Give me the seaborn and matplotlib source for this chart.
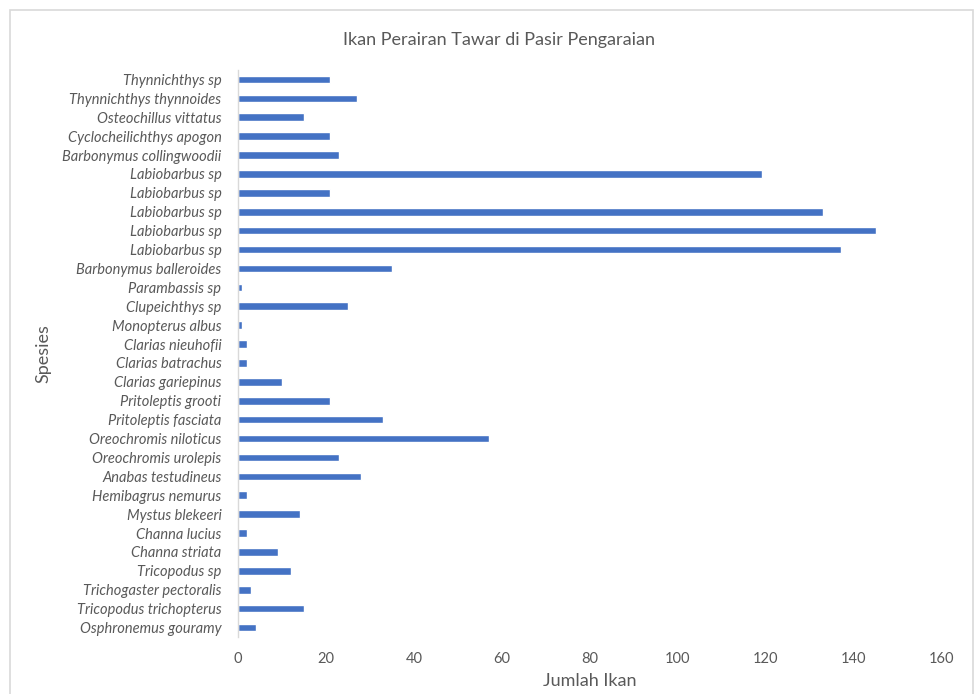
import matplotlib
matplotlib.use('Agg')
import matplotlib.pyplot as plt
import pandas as pd
import seaborn as sns
from matplotlib.patches import Rectangle

# Data (top to bottom as shown in the chart)
species = ['Thynnichthys sp', 'Thynnichthys thynnoides', 'Osteochillus vittatus',
           'Cyclocheilichthys apogon', 'Barbonymus collingwoodii', 'Labiobarbus sp',
           'Labiobarbus sp', 'Labiobarbus sp', 'Labiobarbus sp', 'Labiobarbus sp',
           'Barbonymus balleroides', 'Parambassis sp', 'Clupeichthys sp',
           'Monopterus albus', 'Clarias nieuhofii', 'Clarias batrachus',
           'Clarias gariepinus', 'Pritoleptis grooti', 'Pritoleptis fasciata',
           'Oreochromis niloticus', 'Oreochromis urolepis', 'Anabas testudineus',
           'Hemibagrus nemurus', 'Mystus blekeeri', 'Channa lucius', 'Channa striata',
           'Tricopodus sp', 'Trichogaster pectoralis', 'Tricopodus trichopterus',
           'Osphronemus gouramy']
jumlah = [21, 27, 15, 21, 23, 119, 21, 133, 145, 137,
          35, 1, 25, 1, 2, 2, 10, 21, 33, 57,
          23, 28, 2, 14, 2, 9, 12, 3, 15, 4]
x_ticks = [0, 20, 40, 60, 80, 100, 120, 140, 160]

df = pd.DataFrame({'key': [str(i) for i in range(len(species))],
                   'species': species, 'jumlah': jumlah})

sns.set_style('white')
plt.rcParams['font.family'] = ['Lato', 'DejaVu Sans']
text_col = '#595959'

fig = plt.figure(figsize=(9.74, 6.94), dpi=100)
ax = fig.add_axes([0.2444, 0.0821, 0.7227, 0.8170])

sns.barplot(data=df, x='jumlah', y='key', orient='h', color='#4472C4',
            saturation=1, width=0.4, ax=ax)

ax.set_xlim(0, 160)
ax.set_xticks(x_ticks)
ax.set_xticklabels([str(t) for t in x_ticks], color=text_col, fontsize=10.5)
ax.set_yticks(range(len(species)))
ax.set_yticklabels(species, color=text_col, fontsize=10.5, style='italic')
ax.set_ylim(len(species) - 0.5, -0.5)
ax.tick_params(axis='y', length=0, pad=12)
ax.tick_params(axis='x', length=0, pad=11)

for s in ['top', 'right', 'bottom']:
    ax.spines[s].set_visible(False)
ax.spines['left'].set_color('#D9D9D9')
ax.spines['left'].set_linewidth(1)

ax.set_xlabel('Jumlah Ikan', color=text_col, fontsize=13, labelpad=5)
ax.set_ylabel('Spesies', color=text_col, fontsize=13, labelpad=8)
fig.text(0.512, 0.943, 'Ikan Perairan Tawar di Pasir Pengaraian', ha='center',
         va='center', color=text_col, fontsize=13)

# chart area border
fig.patches.append(Rectangle((10 / 974, -0.05), 963 / 974, 1.05 - 10 / 694,
                             transform=fig.transFigure, fill=False,
                             edgecolor='#D9D9D9', linewidth=1.2))

fig.savefig('out.png', dpi=100)
